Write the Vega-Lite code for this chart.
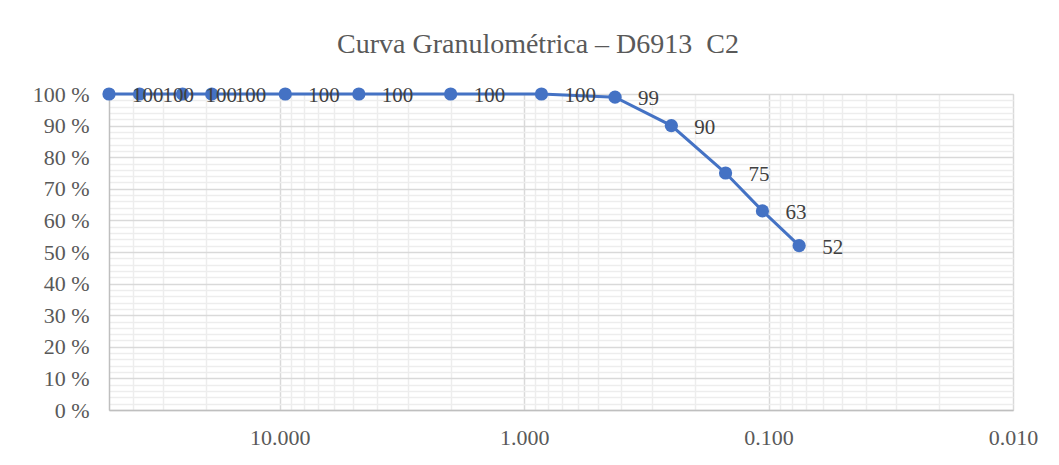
{
  "$schema": "https://vega.github.io/schema/vega-lite/v6.json",
  "width": 904,
  "height": 316,
  "autosize": {"type": "none"},
  "padding": {"left": 109, "top": 94, "right": 46, "bottom": 55},
  "background": "white",
  "title": {
    "text": "Curva Granulométrica – D6913\u00a0 C2",
    "font": "Liberation Serif",
    "fontSize": 28,
    "fontWeight": "normal",
    "color": "#595959",
    "anchor": "middle",
    "frame": "group",
    "baseline": "alphabetic",
    "offset": 2,
    "dx": -23
  },
  "config": {
    "view": {"stroke": "#D0D0D0", "strokeWidth": 1},
    "axis": {
      "labelFont": "Liberation Serif",
      "labelFontSize": 22,
      "labelColor": "#595959",
      "ticks": false,
      "title": null,
      "labelOverlap": false,
      "labelFlush": false,
      "domainColor": "#BFBFBF",
      "domainWidth": 1.5
    }
  },
  "data": {
    "values": [
      {"size": 50, "pass": 100},
      {"size": 37.5, "pass": 100},
      {"size": 25, "pass": 100},
      {"size": 19, "pass": 100},
      {"size": 9.5, "pass": 100},
      {"size": 4.75, "pass": 100},
      {"size": 2.0, "pass": 100},
      {"size": 0.85, "pass": 100},
      {"size": 0.425, "pass": 99},
      {"size": 0.25, "pass": 90},
      {"size": 0.15, "pass": 75},
      {"size": 0.106, "pass": 63},
      {"size": 0.075, "pass": 52}
    ]
  },
  "encoding": {
    "x": {
      "field": "size",
      "type": "quantitative",
      "scale": {"type": "log", "domain": [0.01, 50], "reverse": true, "nice": false, "zero": false},
      "axis": {
        "values": [0.01, 0.02, 0.03, 0.04, 0.05, 0.06, 0.07, 0.08, 0.09, 0.1, 0.2, 0.3, 0.4, 0.5, 0.6, 0.7, 0.8, 0.9, 1, 2, 3, 4, 5, 6, 7, 8, 9, 10, 20, 30, 40],
        "labelExpr": "indexof([0.01, 0.1, 1, 10], datum.value) >= 0 ? format(datum.value, '.3f') : ''",
        "gridColor": {"condition": {"test": "indexof([0.01, 0.1, 1, 10], datum.value) >= 0", "value": "#D9D9D9"}, "value": "#EDEDED"},
        "gridWidth": 1.5,
        "labelPadding": 17
      }
    },
    "y": {
      "field": "pass",
      "type": "quantitative",
      "scale": {"domain": [0, 100], "nice": false},
      "axis": {
        "values": [0, 2, 4, 6, 8, 10, 12, 14, 16, 18, 20, 22, 24, 26, 28, 30, 32, 34, 36, 38, 40, 42, 44, 46, 48, 50, 52, 54, 56, 58, 60, 62, 64, 66, 68, 70, 72, 74, 76, 78, 80, 82, 84, 86, 88, 90, 92, 94, 96, 98, 100],
        "labelExpr": "datum.value % 10 === 0 ? datum.value + ' %' : ''",
        "gridColor": {"condition": {"test": "datum.value % 10 === 0", "value": "#D9D9D9"}, "value": "#EDEDED"},
        "gridWidth": 1.5,
        "labelPadding": 20,
        "labelBaseline": "middle"
      }
    }
  },
  "layer": [
    {
      "mark": {"type": "line", "color": "#4472C4", "strokeWidth": 3}
    },
    {
      "mark": {"type": "point", "filled": true, "color": "#4472C4", "opacity": 1, "size": 175}
    },
    {
      "mark": {"type": "text", "align": "left", "baseline": "middle", "dx": 23, "dy": 2, "font": "Liberation Serif", "fontSize": 21, "color": "#404040"},
      "encoding": {"text": {"field": "pass", "type": "quantitative"}}
    }
  ]
}
